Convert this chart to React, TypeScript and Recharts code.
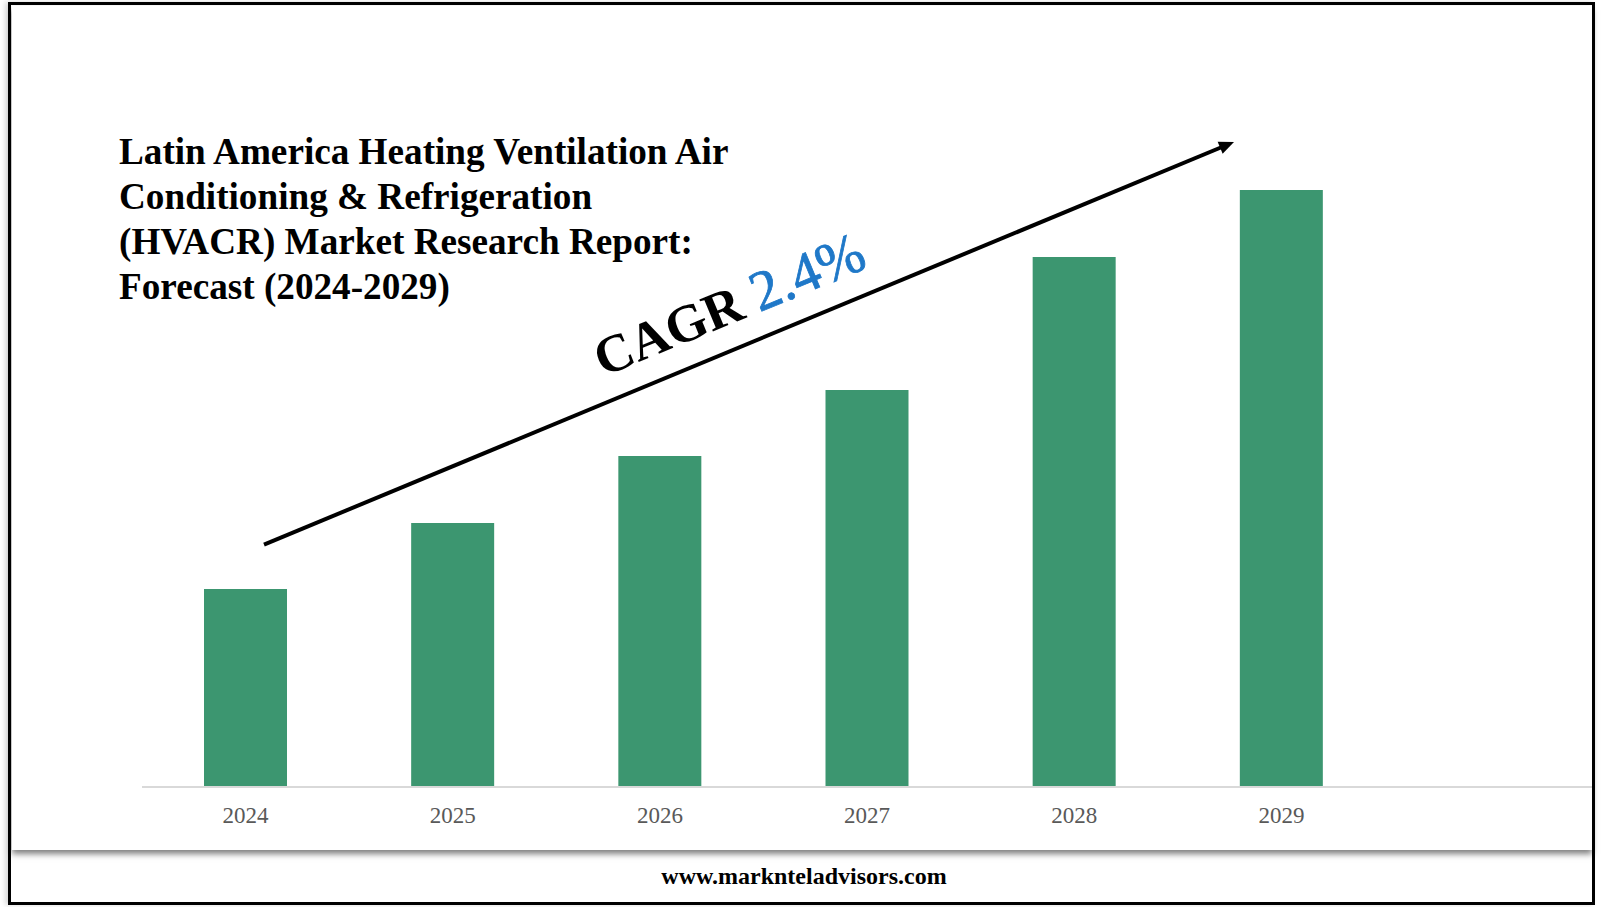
import { Bar, BarChart, XAxis, YAxis } from 'recharts'

// values (bar heights, arbitrary units)
const years = ['2024', '2025', '2026', '2027', '2028', '2029']
const marketSize = [198, 264, 331, 397, 530, 597]

const titleLines = [
	'Latin America Heating Ventilation Air',
	'Conditioning & Refrigeration',
	'(HVACR) Market Research Report:',
	'Forecast (2024-2029)',
]

const data = years.map((year, i) => ({ year, value: marketSize[i] }))

const serif = '"Liberation Serif", "Times New Roman", serif'

// arrow endpoints
const ax1 = 264
const ay1 = 544.6
const ax2 = 1234
const ay2 = 142

function Arrow() {
	const dx = ax2 - ax1
	const dy = ay2 - ay1
	const len = Math.sqrt(dx * dx + dy * dy)
	const ux = dx / len
	const uy = dy / len
	const head = 15
	const half = 6.5
	const bx = ax2 - ux * head
	const by = ay2 - uy * head
	const pts = [
		[ax2, ay2],
		[bx - uy * half, by + ux * half],
		[bx + uy * half, by - ux * half],
	]
	return (
		<g>
			<line x1={ax1} y1={ay1} x2={bx + ux * 2} y2={by + uy * 2} stroke='#000' strokeWidth={4} />
			<polygon points={pts.map((p) => p.join(',')).join(' ')} fill='#000' />
		</g>
	)
}

export default function App() {
	return (
		<div style={{ position: 'absolute', left: 0, top: 0, width: 1602, height: 907, background: '#fff', overflow: 'hidden' }}>
			<div
				style={{
					position: 'absolute',
					left: 8,
					top: 2,
					width: 1587,
					height: 903,
					border: '3.5px solid #000',
					boxSizing: 'border-box',
					boxShadow: '-3px 0 5px rgba(0,0,0,0.15)',
				}}
			/>
			<div
				style={{
					position: 'absolute',
					left: 12,
					top: 6,
					width: 1580,
					height: 844,
					background: '#fff',
					boxShadow: '0 4px 6px rgba(0,0,0,0.5)',
				}}
			/>
			<div style={{ position: 'absolute', left: 0, top: 0 }}>
				<BarChart width={1592} height={907} data={data} margin={{ top: 87, right: 0, bottom: 80, left: 142 }}>
					<XAxis
						dataKey='year'
						axisLine={{ stroke: '#d9d9d9', strokeWidth: 2 }}
						tickLine={false}
						tick={{ fill: '#595959', fontSize: 23, fontFamily: serif }}
						tickMargin={14}
						height={40}
						padding={{ left: 0, right: 207 }}
					/>
					<YAxis hide domain={[0, 700]} />
					<Bar dataKey='value' fill='#3c9670' barSize={83} isAnimationActive={false} />
				</BarChart>
			</div>
			<svg
				width={1602}
				height={907}
				style={{ position: 'absolute', left: 0, top: 0, pointerEvents: 'none' }}
			>
				{titleLines.map((line, i) => (
					<text
						key={i}
						x={119}
						y={164 + i * 45}
						fontFamily={serif}
						fontWeight='bold'
						fontSize={37.2}
						fill='#000'
					>
						{line}
					</text>
				))}
				<Arrow />
				<text transform='translate(603,377) rotate(-22.5)' fontFamily={serif}>
					<tspan fontWeight='bold' fill='#000' fontSize={53}>
						CAGR{' '}
					</tspan>
					<tspan fill='#1f78c8' fontSize={57} stroke='#1f78c8' strokeWidth={0.8}>
						2.4%
					</tspan>
				</text>
				<text x={804} y={884} textAnchor='middle' fontFamily={serif} fontWeight='bold' fontSize={24} fill='#000'>
					www.marknteladvisors.com
				</text>
			</svg>
		</div>
	)
}
